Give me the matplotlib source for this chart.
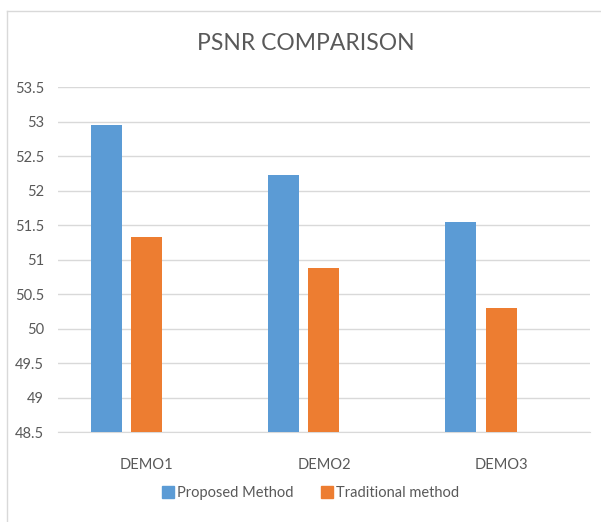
import matplotlib
matplotlib.use("Agg")
import matplotlib.pyplot as plt
import numpy as np
from matplotlib.lines import Line2D

categories = ["DEMO1", "DEMO2", "DEMO3"]
proposed = [52.95, 52.22, 51.55]
traditional = [51.32, 50.88, 50.29]
yticks = [48.5, 49, 49.5, 50, 50.5, 51, 51.5, 52, 52.5, 53, 53.5]
ytick_labels = ["48.5", "49", "49.5", "50", "50.5", "51", "51.5", "52", "52.5", "53", "53.5"]

plt.rcParams['font.family'] = ['Lato', 'DejaVu Sans']

W, H = 601, 522
fig = plt.figure(figsize=(W / 100, H / 100), dpi=100)
ax = fig.add_axes([58 / W, (H - 432) / H, (590 - 58) / W, (432 - 87) / H])

x = np.arange(len(categories))
bw = 0.175
shift = -0.115
blue = "#5B9BD5"
orange = "#ED7D31"
ax.bar(x + shift - bw / 2 - 0.026, proposed, bw, color=blue, label="Proposed Method", zorder=3)
ax.bar(x + shift + bw / 2 + 0.026, traditional, bw, color=orange, label="Traditional method", zorder=3)

ax.set_xlim(-0.5, 2.5)
ax.set_ylim(48.5, 53.5)
ax.set_yticks(yticks)
ax.set_yticklabels(ytick_labels)
ax.set_xticks(x)
ax.set_xticklabels(categories)
ax.grid(axis='y', color="#D9D9D9", linewidth=1, zorder=0)
for s in ["top", "right", "left"]:
    ax.spines[s].set_visible(False)
ax.spines["bottom"].set_color("#D9D9D9")
ax.tick_params(axis='both', length=0, colors="#595959", labelsize=10.5)
ax.tick_params(axis='x', pad=19)
ax.tick_params(axis='y', pad=10)

fig.text(306 / W, 1 - 43 / H, "PSNR COMPARISON", ha='center', va='center', fontsize=16.5,
         color="#595959")

handles = [Line2D([], [], marker='s', linestyle='none', markersize=8, color=blue),
           Line2D([], [], marker='s', linestyle='none', markersize=8, color=orange)]
fig.legend(handles, ["Proposed Method", "Traditional method"], loc='center', bbox_to_anchor=(310 / W, 1 - 493 / H),
           ncol=2, frameon=False, fontsize=10.5, labelcolor="#595959", handletextpad=0.1, columnspacing=1.8,
           handlelength=1.0)

fig.add_artist(Line2D([7 / W, 1], [1 - 11 / H, 1 - 11 / H], transform=fig.transFigure, color="#D9D9D9", linewidth=1))
fig.add_artist(Line2D([7 / W, 7 / W], [0, 1 - 11 / H], transform=fig.transFigure, color="#D9D9D9", linewidth=1))

fig.savefig("out.png", dpi=100)
